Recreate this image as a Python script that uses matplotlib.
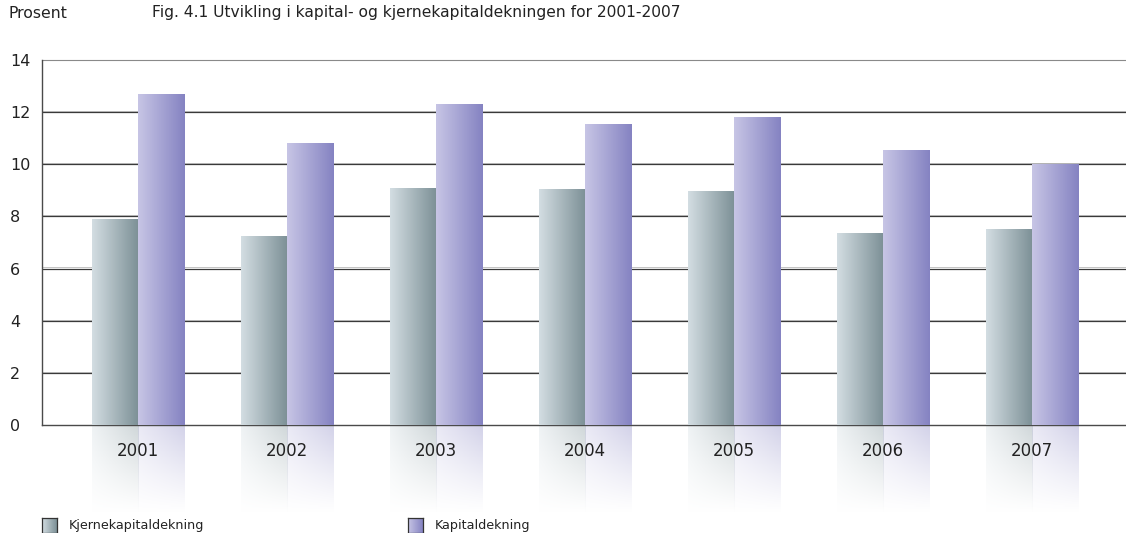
import numpy as np
import matplotlib
matplotlib.use("Agg")
import matplotlib.pyplot as plt
from matplotlib.colors import to_rgb

# ------------------------------------------------------------------
# Data (prosent)
# ------------------------------------------------------------------
years = ["2001", "2002", "2003", "2004", "2005", "2006", "2007"]
kjernekapital = [7.9, 7.25, 9.1, 9.05, 8.97, 7.36, 7.52]
kapital = [12.7, 10.8, 12.3, 11.55, 11.8, 10.55, 10.0]
yticks = [0, 2, 4, 6, 8, 10, 12, 14]

series_names = ["Kjernekapitaldekning", "Kapitaldekning"]
grad_core = ("#d3dde2", "#7c9096")
grad_kap = ("#c7c5e5", "#8583c2")

W, H = 1126, 533


def _gradient(c_left, c_right, n=64, alpha=None):
    """Horizontal colour ramp as an RGB(A) image, optional vertical alpha ramp."""
    a = np.array(to_rgb(c_left))
    b = np.array(to_rgb(c_right))
    t = np.linspace(0, 1, n)[:, None]
    row = a * (1 - t) + b * t
    if alpha is None:
        return row[None, :, :]
    ny = len(alpha)
    img = np.ones((ny, n, 4))
    img[..., :3] = row[None, :, :]
    img[..., 3] = np.asarray(alpha)[:, None]
    return img


fig = plt.figure(figsize=(W / 100, H / 100), dpi=100)
ax = fig.add_axes([42 / W, 108 / H, 1084 / W, 365 / H])

x = np.arange(len(years))
bw = 0.31
px = 14 / 365  # one pixel in data units (y)

# gridlines: dark line with a light edge above
for y in yticks[1:-1]:
    ax.axhline(y + 1.2 * px, color="#c4c4c4", lw=0.7, zorder=1)
    ax.axhline(y, color="#3a3a3a", lw=0.9, zorder=1)
ax.axhline(14, color="#8a8a8a", lw=0.8, zorder=1, clip_on=False)
ax.axhline(0, color="#4a4a4a", lw=1.0, zorder=4, clip_on=False)
ax.plot([-0.646, -0.646], [0, 14], color="#4a4a4a", lw=1.0, zorder=1,
        clip_on=False)

fade = np.linspace(0.42, 0.0, 80) ** 1.15
for offs, vals, grad in ((-bw / 2, kjernekapital, grad_core),
                         (bw / 2, kapital, grad_kap)):
    bars = ax.bar(x + offs, vals, bw, color="none", edgecolor="none", zorder=2)
    for p in bars.patches:
        x0, x1 = p.get_x(), p.get_x() + p.get_width()
        h = p.get_height()
        im = ax.imshow(_gradient(*grad), extent=[x0, x1, 0, h],
                       aspect="auto", interpolation="bilinear", zorder=5)
        im.set_clip_path(p)
        # mirrored fade below the baseline
        ref = ax.imshow(_gradient(*grad, alpha=fade),
                        extent=[x0, x1, -3.4, -0.5 * px],
                        aspect="auto", interpolation="bilinear", zorder=3)
        ref.set_clip_on(False)

ax.set_xlim(-0.646, 6.63)
ax.set_ylim(0, 14)
for s in ax.spines.values():
    s.set_visible(False)

ax.set_yticks(yticks)
ax.set_yticklabels([str(v) for v in yticks], fontsize=11.5, color="#222222",
                   ha="left")
ax.tick_params(axis="y", length=0, pad=23)
ax.set_xticks(x)
ax.set_xticklabels(years, fontsize=12, color="#222222")
ax.tick_params(axis="x", length=0, pad=12)
ax.xaxis.set_zorder(6)  # year labels on top of the reflections

fig.text(9 / W, 1 - 13 / H, "Prosent", fontsize=11.3, va="center",
         color="#222222")
fig.text(152 / W, 1 - 13 / H,
         "Fig. 4.1 Utvikling i kapital- og kjernekapitaldekningen for 2001-2007",
         fontsize=11.2, va="center", color="#222222")

# legend: gradient swatches
for lx, name, grad in ((42, series_names[0], grad_core),
                       (408, series_names[1], grad_kap)):
    sw = fig.add_axes([lx / W, 0, 15 / W, 15 / H])
    sw.imshow(_gradient(*grad), aspect="auto", interpolation="bilinear")
    sw.set_xticks([])
    sw.set_yticks([])
    for s in sw.spines.values():
        s.set_color("#333333")
        s.set_linewidth(0.9)
    fig.text((lx + 27) / W, 8 / H, name, fontsize=9.2, va="center",
             color="#222222")

fig.savefig("out.png", dpi=100)
